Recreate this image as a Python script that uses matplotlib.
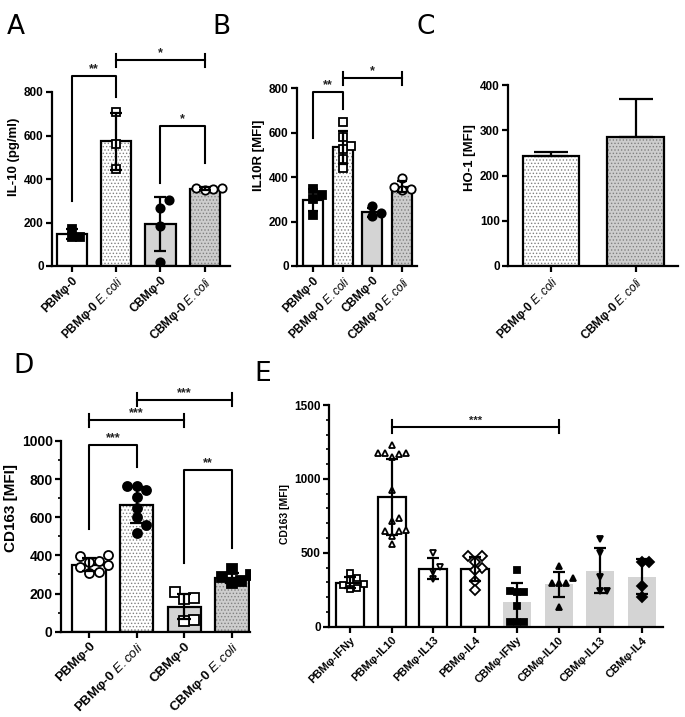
import matplotlib
matplotlib.use('Agg')
import matplotlib.pyplot as plt
import numpy as np

plt.rcParams['font.family'] = ['Liberation Sans', 'DejaVu Sans']
plt.rcParams['mathtext.fontset'] = 'custom'
plt.rcParams['mathtext.it'] = 'Liberation Sans:italic'
plt.rcParams['mathtext.rm'] = 'Liberation Sans'
plt.rcParams['hatch.linewidth'] = 0.6

EC = r' $\mathit{E.coli}$'

# ---- panel A: IL-10 ----
a_labels = ['PBMφ-0', 'PBMφ-0' + EC, 'CBMφ-0', 'CBMφ-0' + EC]
a_means = [146, 573, 192, 355]
a_sd = [22, 130, 125, 6]
a_pts = [[172, 133, 133], [708, 562, 447], [302, 268, 184, 18], [360, 352, 350, 358]]

# ---- panel B: IL10R ----
b_labels = a_labels
b_means = [297, 535, 242, 356]
b_sd = [50, 75, 20, 25]
b_pts = [[345, 320, 300, 230], [650, 583, 540, 525, 483, 442], [270, 240, 225], [395, 355, 340, 345]]

# ---- panel C: HO-1 ----
c_labels = ['PBMφ-0' + EC, 'CBMφ-0' + EC]
c_means = [244, 284]
c_sd = [8, 85]

# ---- panel D: CD163 ----
d_labels = a_labels
d_means = [352, 664, 132, 282]
d_sd = [35, 95, 65, 25]
d_pts = [[402, 398, 372, 365, 350, 340, 312, 310],
         [766, 764, 745, 705, 648, 600, 560, 515],
         [210, 178, 170, 63, 55],
         [330, 295, 285, 265, 255]]

# ---- panel E: CD163 after polarisation ----
e_labels = ['PBMφ-IFNy', 'PBMφ-IL10', 'PBMφ-IL13', 'PBMφ-IL4',
            'CBMφ-IFNy', 'CBMφ-IL10', 'CBMφ-IL13', 'CBMφ-IL4']
e_means = [298, 877, 392, 390, 169, 286, 379, 338]
e_sd = [35, 255, 72, 82, 130, 87, 153, 120]
e_pts = [[360, 330, 315, 290, 280, 260, 255],
         [1229, 1178, 1175, 1172, 1168, 1146, 925, 735, 718, 655, 650, 645, 615, 558],
         [496, 406, 368, 323],
         [480, 480, 440, 395, 383, 309, 248],
         [383, 241, 232, 237, 142, 34, 34, 34],
         [413, 327, 293, 293, 293, 135],
         [591, 500, 334, 241, 241],
         [440, 440, 275, 198]]

W, H = 685, 717
fig = plt.figure(figsize=(W / 100, H / 100), dpi=100)

GRAY = '#d4d4d4'
DGRAY = '#cdcdcd'
DOTS = '.....'


def make_ax(left, right, zero, ppu, xlim, ylim):
    # left/right/zero in pixels from top-left; ppu = pixels per y unit
    top = zero - (ylim[1] - ylim[0]) * ppu
    ax = fig.add_axes([left / W, (H - zero) / H, (right - left) / W, (zero - top) / H])
    ax.set_xlim(*xlim)
    ax.set_ylim(*ylim)
    ax.patch.set_alpha(0)
    for s in ['top', 'right']:
        ax.spines[s].set_visible(False)
    for s in ['left', 'bottom']:
        ax.spines[s].set_linewidth(1.6)
    return ax


def style(ax, labels, yticks, minor=None, fs=8.5, lfs=8.5):
    ax.spines['left'].set_bounds(0, yticks[-1])
    ax.set_yticks(yticks)
    ax.set_yticklabels([str(t) for t in yticks], fontweight='bold', fontsize=fs)
    if minor is not None:
        ax.set_yticks(minor, minor=True)
    ax.set_xticks(range(len(labels)))
    ax.set_xticklabels(labels, rotation=45, ha='right', rotation_mode='anchor',
                       fontweight='bold', fontsize=lfs)
    ax.tick_params(width=1.6, length=4, pad=2)
    ax.tick_params(which='minor', width=1.2, length=2.5)


def swarm(ax, x0, vals, size):
    xpix = ax.transData.transform((1, 0))[0] - ax.transData.transform((0, 0))[0]
    placed = []
    xs = np.zeros(len(vals))
    for i in np.argsort(vals):
        py = ax.transData.transform((0, vals[i]))[1]
        for k in [0, 1, -1, 2, -2, 3, -3]:
            px = k * size
            if all((px - qx) ** 2 + (py - qy) ** 2 >= (0.95 * size) ** 2 for qx, qy in placed):
                break
        placed.append((px, py))
        xs[i] = x0 + px / xpix
    return xs


def bars(ax, means, sd, faces, hatches, width, cap=5, upper=False):
    x = np.arange(len(means))
    for i in x:
        # fill + dotted pattern in grey, then a black outline on top
        ax.bar(i, means[i], width, color=faces[i], hatch=hatches[i],
               edgecolor='#808080', linewidth=0, zorder=2)
        ax.bar(i, means[i], width, fill=False, edgecolor='black', linewidth=1.6, zorder=2.5)
    yerr = [np.zeros(len(sd)), sd] if upper else sd
    ax.errorbar(x, means, yerr=yerr, fmt='none', ecolor='black', elinewidth=1.6,
                capsize=cap, capthick=1.6, zorder=5)


def points(ax, pts, markers, filled, ms, size_px):
    for i, vals in enumerate(pts):
        xs = swarm(ax, i, vals, size_px)
        ax.plot(xs, vals, linestyle='none', marker=markers[i], ms=ms,
                mfc='black' if filled[i] else 'white', mec='black', mew=1.3, zorder=4)


def px2y(ax, px):
    return px * (ax.get_ylim()[1] - ax.get_ylim()[0]) / ax.bbox.height


def bracket(ax, x1, x2, y, e1, e2, txt, fs=9):
    ax.plot([x1, x1, x2, x2], [e1, y, y, e2], color='black', lw=1.5, zorder=6, clip_on=False)
    ax.text((x1 + x2) / 2, y + px2y(ax, 1), txt, ha='center', va='bottom', fontsize=fs,
            fontweight='bold', color='#222222')


def tbar(ax, x1, x2, y, txt, fs=9):
    c = px2y(ax, 6.5)
    ax.plot([x1, x2], [y, y], color='black', lw=1.5, clip_on=False, zorder=6)
    for xx in (x1, x2):
        ax.plot([xx, xx], [y - c, y + c], color='black', lw=1.5, clip_on=False, zorder=6)
    ax.text((x1 + x2) / 2, y + px2y(ax, 1), txt, ha='center', va='bottom', fontsize=fs,
            fontweight='bold', color='#222222')


four_faces = ['white', 'white', GRAY, DGRAY]
four_hatch = [None, DOTS, None, DOTS]

# A
ax = make_ax(52, 230, 266, 0.2175, (-0.45, 3.57), (0, 1000))
bars(ax, a_means, a_sd, four_faces, four_hatch, 0.68, cap=4.5)
points(ax, a_pts, ['s', 's', 'o', 'o'], [True, False, True, False], 6, 8.5)
style(ax, a_labels, [0, 200, 400, 600, 800])
ax.set_ylabel('IL-10 (pg/ml)', fontweight='bold', fontsize=9.5, labelpad=3)
bracket(ax, 0, 1, 873, 300, 776, '**')
tbar(ax, 1, 3, 947, '*')
bracket(ax, 2, 3, 644, 382, 473, '*')

# B
ax = make_ax(297, 417, 266, 0.2221, (-0.54, 3.5), (0, 1000))
bars(ax, b_means, b_sd, four_faces, four_hatch, 0.67, cap=3.5)
points(ax, b_pts, ['s', 's', 'o', 'o'], [True, False, True, False], 6, 8.5)
style(ax, b_labels, [0, 200, 400, 600, 800])
ax.set_ylabel('IL10R [MFI]', fontweight='bold', fontsize=9.5, labelpad=3)
bracket(ax, 0, 1, 782, 578, 706, '**')
tbar(ax, 1, 3, 845, '*')

# C
ax = make_ax(508, 678, 266, 0.4525, (-0.51, 1.5), (0, 480))
bars(ax, c_means, c_sd, ['white', DGRAY], [DOTS, DOTS], 0.67, cap=12, upper=True)
style(ax, c_labels, [0, 100, 200, 300, 400])
ax.set_ylabel('HO-1 [MFI]', fontweight='bold', fontsize=9.5, labelpad=3)

# D
ax = make_ax(61, 250, 631.7, 0.1907, (-0.59, 3.38), (0, 1300))
bars(ax, d_means, d_sd, four_faces, four_hatch, 0.7, cap=5)
points(ax, d_pts, ['o', 'o', 's', 's'], [False, True, False, True], 6.5, 9.5)
style(ax, d_labels, [0, 200, 400, 600, 800, 1000], minor=np.arange(100, 1000, 200),
      fs=10, lfs=9.5)
ax.set_ylabel('CD163 [MFI]', fontweight='bold', fontsize=11, labelpad=3)
bracket(ax, 0, 1, 979, 538, 862, '***')
tbar(ax, 0, 2, 1110, '***')
tbar(ax, 1, 3, 1215, '***')
bracket(ax, 2, 3, 848, 358, 437, '**')

# E
ax = make_ax(329, 663, 626.7, 0.1478, (-0.5, 7.5), (0, 1520))
x = np.arange(8)
ax.bar(x[:4], e_means[:4], 0.67, color='white', edgecolor='black', linewidth=1.6, zorder=2)
ax.bar(x[4:], e_means[4:], 0.67, color=GRAY, linewidth=0, zorder=2)
ax.errorbar(x, e_means, yerr=e_sd, fmt='none', ecolor='black', elinewidth=1.6,
            capsize=4.5, capthick=1.6, zorder=5)
points(ax, e_pts, ['s', '^', 'v', 'D', 's', '^', 'v', 'D'],
       [False] * 4 + [True] * 4, 5, 7)
minor_e = [v for v in range(100, 1500, 100) if v % 500]
style(ax, e_labels, [0, 500, 1000, 1500], minor=minor_e, fs=8.5, lfs=8)
ax.set_ylabel('CD163 [MFI]', fontweight='bold', fontsize=7.5, labelpad=3)
tbar(ax, 1, 5, 1353, '***', fs=8)

# panel letters
for letter, xp, yp in [('A', 7, 34), ('B', 212, 34), ('C', 416, 34), ('D', 13, 373), ('E', 254, 381)]:
    fig.text(xp / W, 1 - yp / H, letter, fontsize=19, family='DejaVu Sans', va='baseline')

fig.savefig('out.png', dpi=100)
